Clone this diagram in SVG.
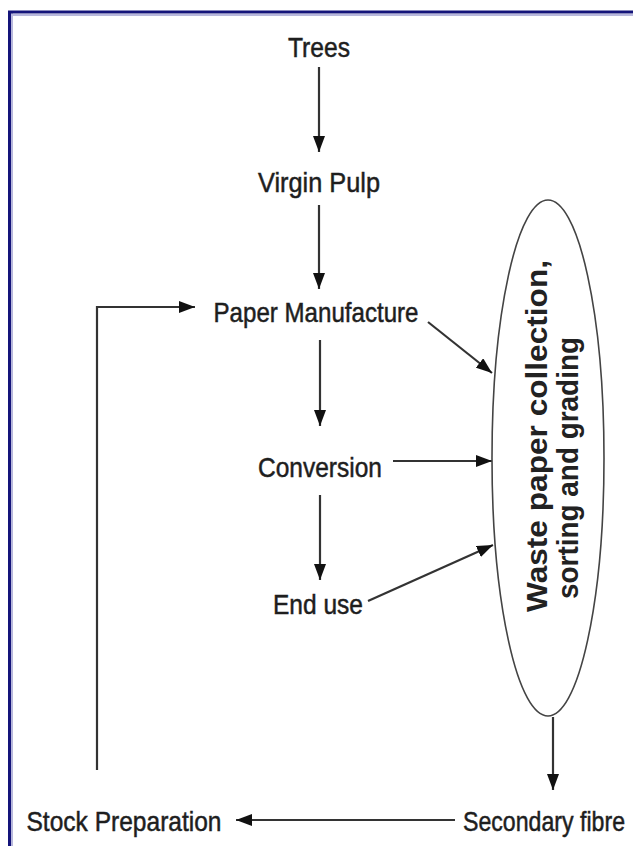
<svg xmlns="http://www.w3.org/2000/svg" width="633" height="846" viewBox="0 0 633 846">
<defs>
<marker id="ah" viewBox="0 0 16 12" refX="16" refY="6" markerWidth="16" markerHeight="12" markerUnits="userSpaceOnUse" orient="auto">
<path d="M0,0 L16,6 L0,12 z" fill="#111"/>
</marker>
<style>
.lbl{font-family:"Liberation Sans",Arial,sans-serif;font-size:28px;fill:#1e1e1e;stroke:#1e1e1e;stroke-width:0.5;text-anchor:middle}
.ell{font-family:"Liberation Sans",Arial,sans-serif;font-size:29px;font-weight:bold;fill:#222;text-anchor:middle}
.cn{fill:none;stroke:#333;stroke-width:2.2;marker-end:url(#ah)}
</style>
</defs>
<rect width="633" height="846" fill="#fff"/>
<g id="frame">
<line x1="8" y1="15" x2="633" y2="15" stroke="#b8b8dc" stroke-width="2"/>
<line x1="12" y1="12" x2="12" y2="846" stroke="#b8b8dc" stroke-width="2"/>
<line x1="8" y1="12" x2="633" y2="12" stroke="#14147a" stroke-width="3"/>
<line x1="9.5" y1="11" x2="9.5" y2="846" stroke="#14147a" stroke-width="3"/>
</g>
<g id="connectors">
<line class="cn" x1="319" y1="67" x2="319" y2="152"/>
<line class="cn" x1="319" y1="205" x2="319" y2="289"/>
<line class="cn" x1="320" y1="340" x2="320" y2="426"/>
<line class="cn" x1="320" y1="495" x2="320" y2="580"/>
<line class="cn" x1="428" y1="322" x2="492" y2="373"/>
<line class="cn" x1="393" y1="461" x2="492" y2="461"/>
<line class="cn" x1="368" y1="601" x2="493" y2="545"/>
<line class="cn" x1="553" y1="717" x2="553" y2="790"/>
<line class="cn" x1="455" y1="820" x2="236" y2="820"/>
<polyline class="cn" points="97,770 97,307 195,307"/>
</g>
<g id="trees"><text class="lbl" x="319" y="57" textLength="62" lengthAdjust="spacingAndGlyphs">Trees</text></g>
<g id="virgin-pulp"><text class="lbl" x="319" y="192" textLength="122" lengthAdjust="spacingAndGlyphs">Virgin Pulp</text></g>
<g id="paper-manufacture"><text class="lbl" x="316" y="322" textLength="205" lengthAdjust="spacingAndGlyphs">Paper Manufacture</text></g>
<g id="conversion"><text class="lbl" x="320" y="477" textLength="124" lengthAdjust="spacingAndGlyphs">Conversion</text></g>
<g id="end-use"><text class="lbl" x="318" y="614" textLength="90" lengthAdjust="spacingAndGlyphs">End use</text></g>
<g id="stock-preparation"><text class="lbl" x="124" y="831" textLength="195" lengthAdjust="spacingAndGlyphs">Stock Preparation</text></g>
<g id="secondary-fibre"><text class="lbl" x="544" y="831" textLength="162" lengthAdjust="spacingAndGlyphs">Secondary fibre</text></g>
<g id="waste-paper">
<ellipse cx="548" cy="458" rx="56" ry="258" fill="none" stroke="#444" stroke-width="1.6"/>
<text class="ell" transform="translate(547,436) rotate(-90)" textLength="352" lengthAdjust="spacingAndGlyphs">Waste paper collection,</text>
<text class="ell" transform="translate(578,468) rotate(-90)" textLength="262" lengthAdjust="spacingAndGlyphs">sorting and grading</text>
</g>
</svg>
